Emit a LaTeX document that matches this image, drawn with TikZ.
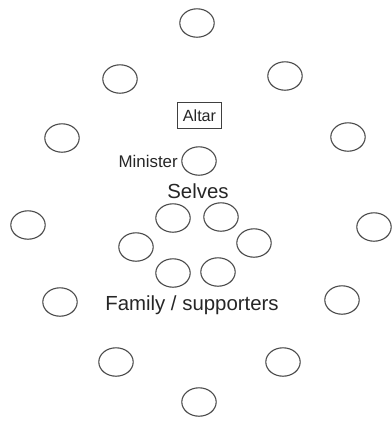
\documentclass[tikz,border=0pt]{standalone}
\usepackage{fontspec}
\setmainfont{Liberation Sans}
\usetikzlibrary{shapes.geometric}

\begin{document}
\begin{tikzpicture}[x=0.025cm,y=-0.025cm,
  seat/.style={draw=black!70,ellipse,line width=0.8pt,minimum width=0.86cm,
    minimum height=0.71cm,inner sep=0pt},
  lbl/.style={inner sep=0pt,text=black!85}]
\useasboundingbox (0,0) rectangle (392,424);
% Outer ring
\node[seat] (o1) at (197,23) {};
\node[seat] (o2) at (285,76) {};
\node[seat] (o3) at (348,137) {};
\node[seat] (o4) at (374,227) {};
\node[seat] (o5) at (342,300) {};
\node[seat] (o6) at (283,362) {};
\node[seat] (o7) at (199,402) {};
\node[seat] (o8) at (116,362) {};
\node[seat] (o9) at (60,302) {};
\node[seat] (o10) at (28,225) {};
\node[seat] (o11) at (62,138) {};
\node[seat] (o12) at (120,79) {};
% Altar and minister
\node[draw=black!75,double,double distance=1.2pt,line width=0.6pt,inner sep=0pt,
  minimum width=1.04cm,minimum height=0.59cm,
  font=\fontsize{11.5}{13}\selectfont,text=black!85] (altar) at (199.5,115.5) {Altar};
\node[seat] (min) at (199,161) {};
\node[lbl,font=\fontsize{12}{14}\selectfont,anchor=east] (minlbl) at (178,161) {Minister};
% Selves and family
\node[lbl,font=\fontsize{14.5}{17}\selectfont] (selves) at (198,191) {Selves};
\node[seat] (f1) at (173,218) {};
\node[seat] (f2) at (221,217) {};
\node[seat] (f3) at (136,247) {};
\node[seat] (f4) at (254,243) {};
\node[seat] (f5) at (173,273) {};
\node[seat] (f6) at (218,272) {};
\node[lbl,font=\fontsize{14.5}{17}\selectfont] (family) at (192,305) {Family / supporters};
\end{tikzpicture}
\end{document}
